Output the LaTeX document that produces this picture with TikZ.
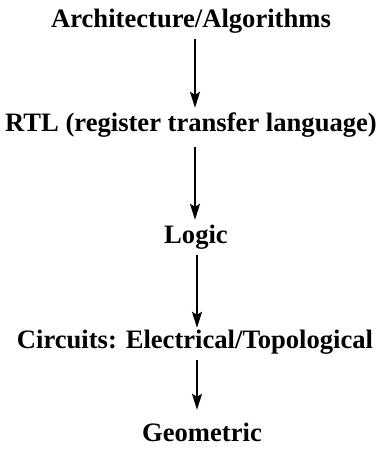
\documentclass[tikz,border=0pt]{standalone}
\usepackage{fontspec}
\setmainfont{Liberation Serif}
\usepackage{tikz}
\usetikzlibrary{positioning, arrows.meta}

\begin{document}
\begin{tikzpicture}[x=1pt, y=-1pt,
  level/.style={anchor=base, inner sep=0pt, text height=18pt, text depth=6pt, font=\fontsize{26.6}{31}\selectfont\bfseries},
  flow/.style={line width=2pt, -{Stealth[length=16pt, width=10pt, inset=3pt]}}]
\useasboundingbox (0,0) rectangle (380,462);
\node[level] (arch) at (191,28) {Architecture/Algorithms};
\node[level] (rtl) at (191,132) {RTL (register transfer language)};
\node[level] (logic) at (196,243) {Logic};
\node[level] (circ) at (195,348) {Circuits: Electrical/Topological};
\node[level] (geom) at (202,441) {Geometric};
% downward steps between the levels
\draw[flow, shorten <=5pt, shorten >=6pt] ([xshift=4pt]arch.south) -- ([xshift=4pt]rtl.north);
\draw[flow, shorten <=9pt, shorten >=5pt] ([xshift=4pt]rtl.south) -- ([xshift=4pt]rtl.south |- logic.north);
\draw[flow, shorten <=6pt, shorten >=2pt] ([xshift=1pt]logic.south) -- ([xshift=1pt]logic.south |- circ.north);
\draw[flow, shorten <=6pt, shorten >=13pt] ([xshift=2pt]circ.south) -- ([xshift=2pt]circ.south |- geom.north);
\end{tikzpicture}
\end{document}
